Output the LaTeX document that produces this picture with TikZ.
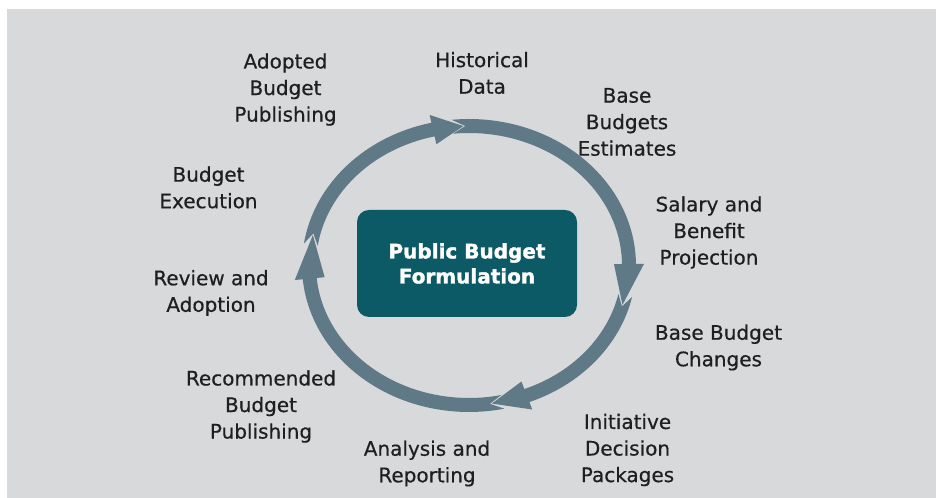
\documentclass[tikz,border=0pt]{standalone}
\usepackage{fontspec}
\setmainfont{DejaVu Sans}[UprightFeatures={FakeBold=0.5}, BoldFeatures={FakeBold=1.6}]
\definecolor{panelgray}{HTML}{D8D9DB}
\definecolor{loopgray}{HTML}{5F7986}
\definecolor{coreteal}{HTML}{0D5A67}
\tikzset{
  stage/.style={align=center, text=black!88, inner sep=0pt, font=\fontsize{15}{19.9}\selectfont},
  core/.style={fill=coreteal, rounded corners=9pt, minimum width=165pt, minimum height=80.25pt,
    text=white, align=center, font=\bfseries\fontsize{15}{18.75}\selectfont},
  looparrow/.style={fill=loopgray}
}

\begin{document}
\begin{tikzpicture}[x=0.75pt, y=0.75pt]
\useasboundingbox (0,0) rectangle (936,498);
\fill[panelgray] (7,0) rectangle (936,489);

% cycle arrows
\begin{scope}[shift={(469,232.5)}]
\fill[looparrow] (171.4:167 and 146.5) arc[start angle=171.4, end angle=103, x radius=167, y radius=146.5]
  -- (103:175 and 154.5) -- (92:160 and 139.5) -- (103:145 and 124.5) -- (103:153 and 132.5)
  arc[start angle=103, end angle=171.4, x radius=153, y radius=132.5] -- (166.7:160 and 139.5) -- cycle;
\fill[looparrow] (96:167 and 146.5) arc[start angle=96, end angle=0.6, x radius=167, y radius=146.5]
  -- (0.6:175 and 154.5) -- (-16.4:160 and 139.5) -- (0.6:145 and 124.5) -- (0.6:153 and 132.5)
  arc[start angle=0.6, end angle=96, x radius=153, y radius=132.5] -- (91.3:160 and 139.5) -- cycle;
\fill[looparrow] (-12.4:167 and 146.5) arc[start angle=-12.4, end angle=-68.8, x radius=167, y radius=146.5]
  -- (-68.8:175 and 154.5) -- (-81.8:160 and 139.5) -- (-68.8:145 and 124.5) -- (-68.8:153 and 132.5)
  arc[start angle=-68.8, end angle=-12.4, x radius=153, y radius=132.5] -- (-17.1:160 and 139.5) -- cycle;
\fill[looparrow] (-77.8:167 and 146.5) arc[start angle=-77.8, end angle=-174.6, x radius=167, y radius=146.5]
  -- (-174.6:175 and 154.5) -- (-192.6:160 and 139.5) -- (-174.6:145 and 124.5) -- (-174.6:153 and 132.5)
  arc[start angle=-174.6, end angle=-77.8, x radius=153, y radius=132.5] -- (-82.5:160 and 139.5) -- cycle;
\end{scope}

\node[core] (formulation) at (467,234.5) {Public Budget\\Formulation};

\node[stage] (hist) at (482,425) {Historical\\Data};
\node[stage] (base) at (627,376) {Base\\Budgets\\Estimates};
\node[stage] (salary) at (709,265.5) {Salary and\\Benefit\\Projection};
\node[stage] (changes) at (718.5,150.5) {Base Budget\\Changes};
\node[stage] (initiative) at (627.5,48) {Initiative\\Decision\\Packages};
\node[stage] (analysis) at (427,34.5) {Analysis and\\Reporting};
\node[stage] (recommended) at (261,91.5) {Recommended\\Budget\\Publishing};
\node[stage] (review) at (211,205) {Review and\\Adoption};
\node[stage] (execution) at (208.5,310.5) {Budget\\Execution};
\node[stage] (adopted) at (285.5,408.5) {Adopted\\Budget\\Publishing};
\end{tikzpicture}
\end{document}
